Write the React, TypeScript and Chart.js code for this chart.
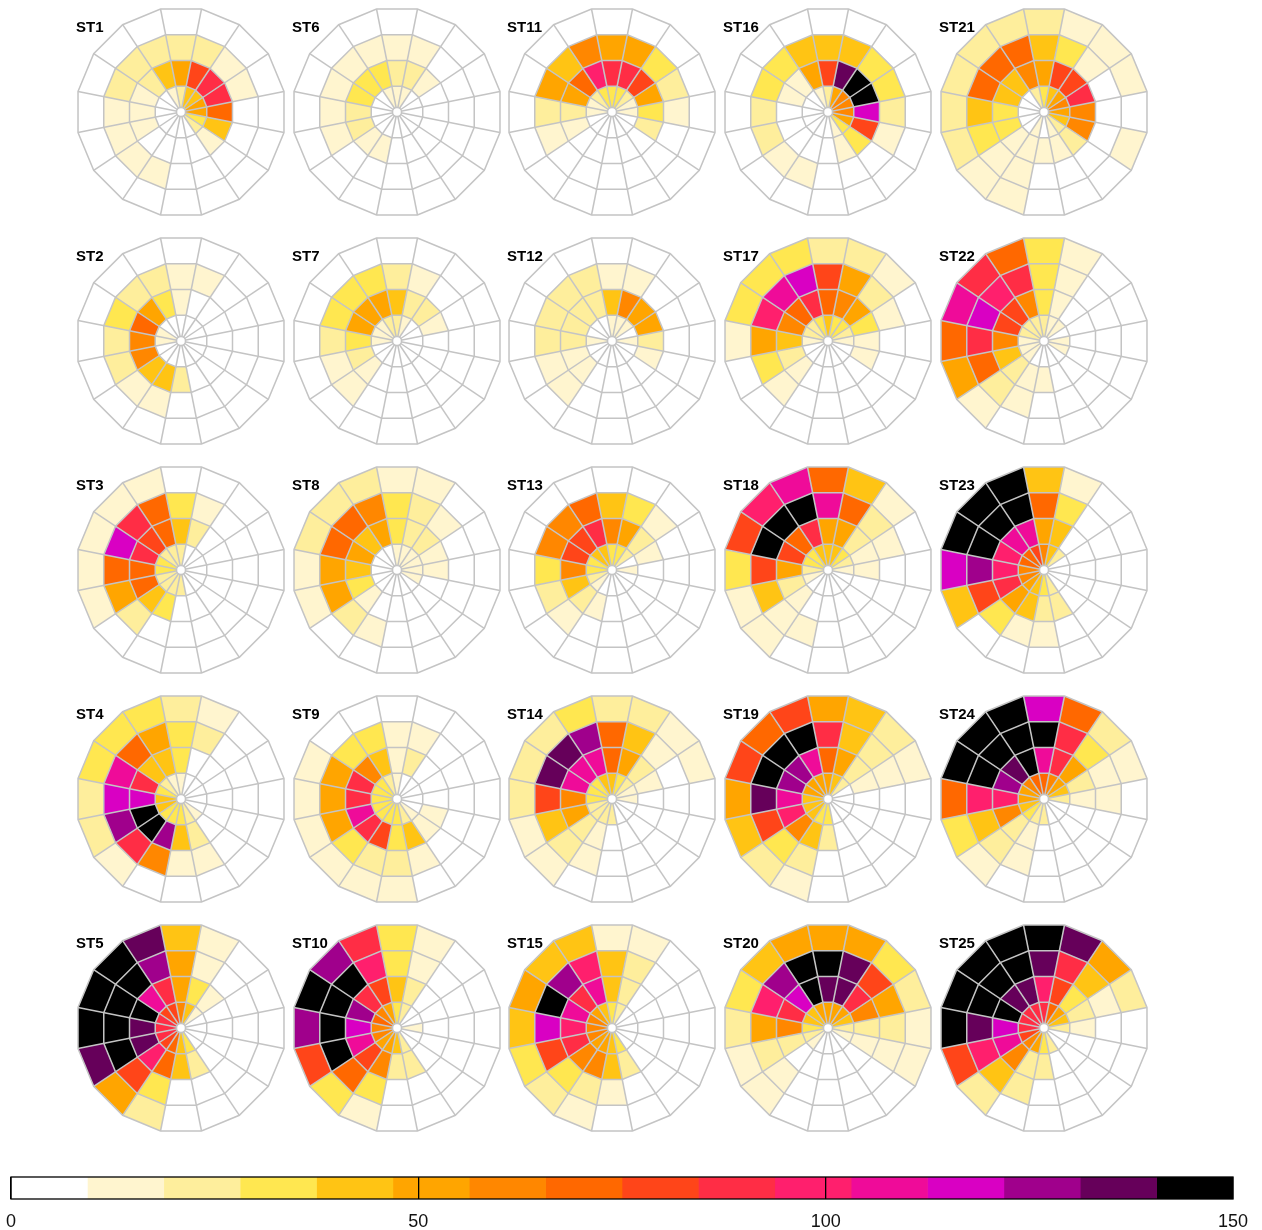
import React, { useEffect, useRef } from 'react';
import { Chart, registerables } from 'chart.js';

Chart.register(...registerables);

const FONT = '"Liberation Sans", Arial, Helvetica, sans-serif';
const GRID_COLOR = '#c4c4c4';

// Directions clockwise from North (sector centres)
const DIRECTIONS = ['N', 'NNE', 'NE', 'ENE', 'E', 'ESE', 'SE', 'SSE', 'S', 'SSW', 'SW', 'WSW', 'W', 'WNW', 'NW', 'NNW'];
// Ring boundaries (inner -> outer)
const RING_LEVELS = [0, 1, 2, 3, 4];

// Colour scale: 16 bins from 0 to 150
const COLOR_BOUNDS = [0, 9.375, 18.75, 28.125, 37.5, 46.875, 56.25, 65.625, 75, 84.375, 93.75, 103.125, 112.5, 121.875, 131.25, 140.625, 150];
const BIN_COLORS = ['#ffffff', '#fff5cf', '#feee9c', '#ffe750', '#ffc414', '#ffa500', '#ff8700', '#ff6800', '#ff4519', '#ff2d45', '#ff1f6d', '#ef0b99', '#d900c3', '#a0008c', '#66005a', '#000000'];
const COLORBAR_TICKS = [0, 50, 100, 150];

// Grid placement of the 25 stations (columns / rows)
const COLUMN_X = [181, 397, 612, 828, 1044];
const ROW_Y = [112, 341, 570, 799, 1028];

// Each station: 4 rings (inner -> outer), 16 direction values (N, NNE, ... NNW)
const ST1 = [
  [23, 42, 42, 52, 52, 33, 23, 0, 0, 0, 0, 0, 0, 0, 0, 14],
  [52, 80, 89, 89, 70, 42, 14, 0, 0, 0, 0, 14, 14, 14, 23, 42],
  [23, 23, 14, 14, 0, 0, 0, 0, 0, 14, 14, 14, 14, 23, 23, 23],
  [0, 0, 0, 0, 0, 0, 0, 0, 0, 0, 0, 0, 0, 0, 0, 0],
];
const ST2 = [
  [0, 0, 0, 0, 0, 0, 0, 0, 0, 0, 0, 0, 14, 14, 0, 0],
  [14, 0, 0, 0, 0, 0, 0, 0, 23, 42, 42, 61, 61, 70, 52, 33],
  [14, 14, 0, 0, 0, 0, 0, 0, 0, 14, 14, 23, 23, 33, 23, 23],
  [0, 0, 0, 0, 0, 0, 0, 0, 0, 0, 0, 0, 0, 0, 0, 0],
];
const ST3 = [
  [23, 0, 0, 0, 0, 0, 0, 0, 23, 23, 23, 23, 33, 33, 23, 23],
  [42, 23, 0, 0, 0, 0, 0, 0, 0, 33, 42, 70, 70, 89, 80, 70],
  [33, 14, 0, 0, 0, 0, 0, 0, 0, 0, 23, 52, 70, 117, 89, 70],
  [0, 0, 0, 0, 0, 0, 0, 0, 0, 0, 0, 14, 14, 14, 14, 14],
];
const ST4 = [
  [14, 0, 0, 0, 0, 0, 14, 23, 33, 33, 33, 42, 42, 33, 23, 14],
  [33, 0, 0, 0, 0, 0, 0, 23, 42, 127, 146, 146, 117, 89, 42, 42],
  [33, 23, 0, 0, 0, 0, 0, 14, 14, 61, 89, 127, 117, 108, 70, 52],
  [23, 14, 0, 0, 0, 0, 0, 0, 0, 0, 14, 23, 23, 33, 33, 33],
];
const ST5 = [
  [61, 42, 14, 0, 0, 0, 0, 33, 42, 70, 80, 89, 89, 89, 80, 80],
  [52, 33, 14, 0, 0, 0, 0, 23, 42, 70, 98, 136, 136, 146, 108, 89],
  [52, 14, 0, 0, 0, 0, 0, 0, 0, 33, 80, 146, 146, 146, 146, 127],
  [42, 14, 0, 0, 0, 0, 0, 0, 0, 23, 52, 136, 146, 146, 146, 136],
];
const ST6 = [
  [14, 14, 0, 0, 0, 0, 0, 0, 0, 0, 0, 0, 0, 0, 0, 14],
  [23, 23, 14, 0, 0, 0, 0, 0, 0, 14, 14, 23, 23, 33, 33, 33],
  [14, 14, 0, 0, 0, 0, 0, 0, 0, 0, 0, 14, 14, 14, 14, 14],
  [0, 0, 0, 0, 0, 0, 0, 0, 0, 0, 0, 0, 0, 0, 0, 0],
];
const ST7 = [
  [23, 14, 0, 0, 0, 0, 0, 0, 0, 0, 0, 0, 14, 14, 14, 23],
  [42, 23, 23, 14, 0, 0, 0, 0, 0, 0, 14, 23, 33, 52, 52, 52],
  [23, 14, 0, 0, 0, 0, 0, 0, 0, 0, 14, 14, 23, 33, 33, 33],
  [0, 0, 0, 0, 0, 0, 0, 0, 0, 0, 0, 0, 0, 0, 0, 0],
];
const ST8 = [
  [14, 14, 14, 14, 14, 14, 0, 0, 0, 0, 0, 0, 0, 0, 0, 0],
  [33, 23, 23, 14, 14, 0, 0, 0, 0, 0, 14, 33, 42, 52, 42, 52],
  [33, 23, 14, 0, 0, 0, 0, 0, 0, 14, 23, 52, 52, 70, 70, 61],
  [14, 14, 0, 0, 0, 0, 0, 0, 0, 0, 0, 14, 14, 23, 23, 23],
];
const ST9 = [
  [14, 0, 0, 0, 0, 0, 14, 23, 33, 33, 33, 33, 33, 33, 33, 23],
  [14, 23, 0, 0, 0, 14, 14, 42, 33, 80, 89, 108, 89, 89, 61, 42],
  [14, 14, 0, 0, 0, 0, 0, 14, 23, 23, 33, 52, 52, 52, 33, 33],
  [0, 0, 0, 0, 0, 0, 0, 0, 14, 14, 14, 14, 14, 14, 0, 0],
];
const ST10 = [
  [33, 23, 0, 0, 14, 0, 0, 23, 42, 52, 52, 61, 61, 70, 61, 52],
  [42, 23, 0, 0, 0, 0, 0, 23, 23, 61, 80, 108, 117, 127, 89, 80],
  [33, 14, 0, 0, 0, 0, 0, 0, 0, 33, 70, 146, 146, 146, 146, 98],
  [33, 14, 0, 0, 0, 0, 0, 0, 0, 14, 33, 80, 127, 146, 127, 89],
];
const ST11 = [
  [33, 33, 23, 14, 14, 0, 0, 0, 0, 0, 0, 0, 14, 14, 23, 33],
  [89, 89, 80, 52, 33, 23, 0, 0, 0, 0, 0, 14, 23, 52, 70, 98],
  [52, 52, 33, 23, 14, 0, 0, 0, 0, 0, 0, 14, 23, 52, 42, 61],
  [0, 0, 0, 0, 0, 0, 0, 0, 0, 0, 0, 0, 0, 0, 0, 0],
];
const ST12 = [
  [14, 14, 14, 0, 14, 0, 0, 0, 0, 0, 0, 0, 14, 0, 0, 0],
  [42, 61, 52, 52, 23, 14, 0, 0, 0, 0, 14, 14, 23, 23, 23, 23],
  [14, 14, 0, 0, 0, 0, 0, 0, 0, 0, 14, 14, 23, 23, 23, 23],
  [0, 0, 0, 0, 0, 0, 0, 0, 0, 0, 0, 0, 0, 0, 0, 0],
];
const ST13 = [
  [33, 33, 23, 0, 14, 0, 0, 0, 0, 0, 14, 23, 33, 33, 42, 42],
  [61, 52, 23, 14, 0, 0, 0, 0, 0, 14, 23, 42, 61, 80, 80, 89],
  [42, 33, 14, 0, 0, 0, 0, 0, 0, 0, 14, 23, 33, 61, 61, 70],
  [0, 0, 0, 0, 0, 0, 0, 0, 0, 0, 0, 0, 0, 0, 0, 0],
];
const ST14 = [
  [42, 33, 23, 14, 14, 0, 0, 0, 23, 23, 23, 23, 33, 33, 33, 42],
  [70, 52, 23, 14, 0, 0, 0, 0, 0, 14, 23, 52, 61, 108, 108, 108],
  [70, 42, 14, 0, 0, 0, 0, 0, 0, 14, 23, 42, 80, 136, 136, 127],
  [23, 23, 14, 14, 0, 0, 0, 0, 0, 0, 14, 14, 23, 23, 23, 33],
];
const ST15 = [
  [33, 23, 0, 0, 0, 0, 0, 33, 42, 52, 52, 61, 61, 61, 52, 42],
  [42, 23, 0, 0, 0, 0, 0, 23, 42, 61, 61, 89, 98, 108, 89, 108],
  [42, 23, 0, 0, 0, 0, 0, 0, 14, 23, 33, 80, 117, 146, 127, 98],
  [14, 14, 0, 0, 0, 0, 0, 0, 0, 14, 23, 33, 42, 52, 42, 42],
];
const ST16 = [
  [23, 52, 61, 61, 61, 52, 33, 14, 0, 0, 0, 0, 0, 0, 0, 14],
  [80, 136, 146, 146, 117, 80, 33, 14, 0, 0, 0, 0, 0, 14, 14, 52],
  [42, 42, 33, 33, 23, 14, 0, 0, 0, 14, 14, 23, 23, 33, 33, 42],
  [0, 0, 0, 0, 0, 0, 0, 0, 0, 0, 0, 0, 0, 0, 0, 0],
];
const ST17 = [
  [42, 33, 33, 23, 14, 0, 0, 0, 0, 0, 0, 0, 14, 23, 23, 33],
  [70, 61, 52, 33, 14, 14, 0, 0, 0, 0, 14, 23, 42, 61, 70, 89],
  [80, 52, 23, 14, 0, 0, 0, 0, 0, 0, 14, 33, 52, 98, 108, 117],
  [23, 23, 14, 0, 0, 0, 0, 0, 0, 0, 0, 0, 14, 33, 33, 33],
];
const ST18 = [
  [42, 42, 33, 23, 14, 0, 0, 0, 0, 0, 0, 14, 23, 33, 33, 42],
  [52, 52, 23, 14, 14, 0, 0, 0, 0, 0, 14, 23, 52, 80, 70, 89],
  [108, 70, 23, 14, 0, 0, 0, 0, 0, 14, 14, 42, 80, 146, 146, 146],
  [70, 42, 14, 0, 0, 0, 0, 0, 0, 0, 14, 14, 33, 80, 98, 108],
];
const ST19 = [
  [52, 42, 23, 0, 0, 0, 0, 0, 33, 33, 42, 42, 42, 52, 52, 52],
  [70, 52, 23, 14, 0, 0, 0, 0, 23, 42, 61, 98, 108, 127, 127, 108],
  [89, 42, 23, 14, 0, 0, 0, 0, 0, 23, 33, 80, 136, 146, 146, 146],
  [52, 42, 23, 14, 0, 0, 0, 0, 0, 14, 23, 42, 52, 80, 70, 80],
];
const ST20 = [
  [52, 52, 52, 42, 23, 14, 0, 0, 0, 0, 14, 23, 33, 42, 42, 52],
  [136, 136, 89, 61, 23, 14, 0, 0, 0, 0, 0, 23, 61, 89, 117, 146],
  [146, 136, 80, 52, 23, 14, 0, 0, 0, 0, 14, 23, 52, 98, 127, 146],
  [52, 52, 33, 23, 14, 14, 0, 0, 0, 0, 14, 14, 23, 33, 42, 52],
];
const ST21 = [
  [33, 42, 52, 61, 52, 42, 23, 14, 0, 14, 0, 0, 0, 0, 0, 23],
  [52, 80, 80, 89, 61, 61, 23, 14, 14, 14, 14, 33, 33, 42, 42, 61],
  [42, 33, 14, 0, 0, 0, 0, 0, 0, 14, 14, 33, 42, 70, 70, 70],
  [23, 14, 14, 14, 0, 14, 0, 0, 0, 14, 14, 23, 23, 23, 23, 23],
];
const ST22 = [
  [23, 14, 14, 0, 14, 14, 0, 0, 0, 0, 14, 14, 14, 23, 23, 23],
  [33, 14, 0, 0, 0, 0, 0, 0, 14, 14, 23, 42, 61, 80, 80, 61],
  [33, 14, 0, 0, 0, 0, 0, 0, 0, 14, 23, 70, 89, 117, 98, 89],
  [33, 14, 0, 0, 0, 0, 0, 0, 0, 0, 14, 52, 70, 108, 89, 70],
];
const ST23 = [
  [61, 42, 23, 0, 0, 0, 0, 23, 33, 42, 52, 61, 61, 70, 70, 80],
  [52, 42, 0, 0, 0, 0, 0, 23, 23, 42, 52, 89, 98, 98, 108, 108],
  [70, 33, 0, 0, 0, 0, 0, 0, 14, 14, 33, 80, 127, 146, 146, 146],
  [42, 14, 0, 0, 0, 0, 0, 0, 0, 0, 0, 42, 117, 146, 146, 146],
];
const ST24 = [
  [70, 61, 52, 42, 23, 0, 0, 0, 23, 23, 33, 42, 52, 52, 61, 70],
  [108, 89, 52, 23, 14, 0, 0, 0, 0, 14, 23, 61, 98, 127, 136, 146],
  [146, 89, 33, 14, 14, 0, 0, 0, 0, 14, 23, 42, 98, 146, 146, 146],
  [117, 70, 23, 14, 0, 0, 0, 0, 0, 0, 14, 33, 70, 146, 146, 146],
];
const ST25 = [
  [89, 70, 52, 42, 23, 0, 0, 23, 33, 52, 61, 80, 89, 89, 89, 89],
  [98, 80, 33, 23, 14, 0, 0, 0, 23, 23, 61, 108, 117, 146, 136, 136],
  [136, 89, 42, 14, 0, 0, 0, 0, 0, 23, 42, 98, 136, 146, 146, 146],
  [146, 136, 52, 23, 0, 0, 0, 0, 0, 0, 23, 80, 146, 146, 146, 146],
];

const STATION_NAMES = ['ST1', 'ST2', 'ST3', 'ST4', 'ST5', 'ST6', 'ST7', 'ST8', 'ST9', 'ST10', 'ST11', 'ST12', 'ST13', 'ST14', 'ST15', 'ST16', 'ST17', 'ST18', 'ST19', 'ST20', 'ST21', 'ST22', 'ST23', 'ST24', 'ST25'];
const STATION_DATA = [ST1, ST2, ST3, ST4, ST5, ST6, ST7, ST8, ST9, ST10, ST11, ST12, ST13, ST14, ST15, ST16, ST17, ST18, ST19, ST20, ST21, ST22, ST23, ST24, ST25];

function colorFor(v: number): string {
  let idx = 0;
  for (let i = 0; i < BIN_COLORS.length; i++) {
    if (v >= COLOR_BOUNDS[i]) idx = i;
  }
  return BIN_COLORS[idx];
}

const CANVAS = 216;
const HALF = CANVAS / 2;

function Rose({ name, rings, cx, cy }: { name: string; rings: number[][]; cx: number; cy: number }) {
  const ref = useRef<HTMLCanvasElement>(null);
  useEffect(() => {
    if (!ref.current) return;
    const cellsPlugin = {
      id: 'roseCells',
      beforeDatasetsDraw(chart: any) {
        const scale = chart.scales.r;
        const ctx = chart.ctx;
        const n = DIRECTIONS.length;
        ctx.save();
        rings.forEach((ring, r) => {
          ring.forEach((v, k) => {
            const k2 = (k + 1) % n;
            const a = scale.getPointPositionForValue(k, RING_LEVELS[r]);
            const b = scale.getPointPositionForValue(k2, RING_LEVELS[r]);
            const c = scale.getPointPositionForValue(k2, RING_LEVELS[r + 1]);
            const d = scale.getPointPositionForValue(k, RING_LEVELS[r + 1]);
            ctx.beginPath();
            ctx.moveTo(a.x, a.y);
            ctx.lineTo(b.x, b.y);
            ctx.lineTo(c.x, c.y);
            ctx.lineTo(d.x, d.y);
            ctx.closePath();
            ctx.fillStyle = colorFor(v);
            ctx.fill();
          });
        });
        ctx.restore();
      },
      afterDraw(chart: any) {
        const scale = chart.scales.r;
        const ctx = chart.ctx;
        ctx.save();
        ctx.beginPath();
        ctx.arc(scale.xCenter, scale.yCenter, 4.5, 0, Math.PI * 2);
        ctx.fillStyle = '#ffffff';
        ctx.fill();
        ctx.lineWidth = 1.5;
        ctx.strokeStyle = GRID_COLOR;
        ctx.stroke();
        ctx.restore();
      },
    };
    const chart = new Chart(ref.current, {
      type: 'radar',
      data: { labels: DIRECTIONS, datasets: [] },
      options: {
        animation: false,
        responsive: false,
        events: [],
        layout: { padding: 3 },
        plugins: { legend: { display: false }, tooltip: { enabled: false }, title: { display: false } },
        scales: {
          r: {
            min: RING_LEVELS[0],
            max: RING_LEVELS[RING_LEVELS.length - 1],
            startAngle: -180 / DIRECTIONS.length,
            ticks: { display: false, stepSize: 1 },
            pointLabels: { display: false },
            grid: { color: GRID_COLOR, lineWidth: 1.5, z: 1 } as any,
            angleLines: { color: GRID_COLOR, lineWidth: 1.5 },
          },
        },
      } as any,
      plugins: [cellsPlugin],
    });
    return () => chart.destroy();
  }, [rings]);
  return (
    <>
      <canvas
        ref={ref}
        width={CANVAS}
        height={CANVAS}
        style={{ position: 'absolute', left: cx - HALF, top: cy - HALF, width: CANVAS, height: CANVAS }}
      />
      <div
        style={{
          position: 'absolute',
          left: cx - 105,
          top: cy - 93,
          font: `bold 15px ${FONT}`,
          lineHeight: '15px',
          color: '#000',
          whiteSpace: 'nowrap',
        }}
      >
        {name}
      </div>
    </>
  );
}

function ColorBar() {
  const ref = useRef<HTMLCanvasElement>(null);
  useEffect(() => {
    if (!ref.current) return;
    const frame = {
      id: 'barFrame',
      afterDraw(chart: any) {
        const { left, top, width, height } = chart.chartArea;
        const ctx = chart.ctx;
        ctx.save();
        ctx.strokeStyle = '#000';
        ctx.lineWidth = 1.3;
        ctx.strokeRect(left, top, width, height);
        ctx.restore();
      },
    };
    const chart = new Chart(ref.current, {
      type: 'bar',
      data: {
        labels: [''],
        datasets: BIN_COLORS.map((c, i) => ({
          data: [[COLOR_BOUNDS[i], COLOR_BOUNDS[i + 1]]],
          backgroundColor: c,
          borderWidth: 0,
          barPercentage: 1,
          categoryPercentage: 1,
          grouped: false,
        })),
      },
      options: {
        indexAxis: 'y',
        animation: false,
        responsive: false,
        events: [],
        layout: { padding: { left: 11, right: 29, top: 7, bottom: 0 } },
        plugins: { legend: { display: false }, tooltip: { enabled: false } },
        scales: {
          x: {
            type: 'linear',
            min: COLORBAR_TICKS[0],
            max: COLORBAR_TICKS[COLORBAR_TICKS.length - 1],
            afterBuildTicks: (s: any) => {
              s.ticks = COLORBAR_TICKS.map((v) => ({ value: v }));
            },
            afterFit: (s: any) => {
              s.height = 31;
              s.paddingLeft = 0;
              s.paddingRight = 0;
            },
            ticks: { color: '#111', font: { size: 18, family: FONT }, padding: 12, maxRotation: 0, autoSkip: false },
            grid: { color: '#000', lineWidth: 1.3, drawTicks: false, z: 1 },
            border: { display: false },
          },
          y: { display: false },
        },
      } as any,
      plugins: [frame],
    });
    return () => chart.destroy();
  }, []);
  return (
    <canvas
      ref={ref}
      width={1262}
      height={60}
      style={{ position: 'absolute', left: 0, top: 1170, width: 1262, height: 60 }}
    />
  );
}

export default function App() {
  return (
    <div style={{ position: 'absolute', left: 0, top: 0, width: 1262, height: 1230, background: '#fff', overflow: 'hidden' }}>
      {STATION_DATA.map((rings, i) => (
        <Rose
          key={STATION_NAMES[i]}
          name={STATION_NAMES[i]}
          rings={rings}
          cx={COLUMN_X[Math.floor(i / ROW_Y.length)]}
          cy={ROW_Y[i % ROW_Y.length]}
        />
      ))}
      <ColorBar />
    </div>
  );
}
